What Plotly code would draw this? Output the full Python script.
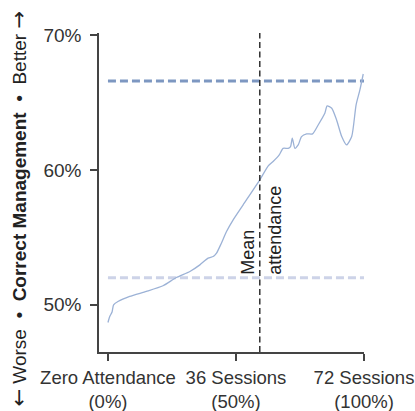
import plotly.graph_objects as go

# Data
attendance_pct = [0, 0.7, 1.6, 2.2, 3.9, 8.5, 15, 21.5, 26.7, 32, 35.9, 39.1, 41.1, 42.4,
                  44.3, 46.3, 48.9, 52.8, 59.3, 62.6, 64.5, 66.9, 68.4, 70.4, 71.3, 72,
                  73, 74.3, 75.6, 77.6, 79.9, 82.1, 84.7, 85.6, 87.4, 89.3, 91.3, 93.2,
                  95.2, 96.9, 98.4, 99.7]
correct_mgmt = [48.69, 49.13, 49.46, 50.0, 50.24, 50.62, 50.99, 51.41, 52.02, 52.47, 52.96,
                53.46, 53.58, 53.83, 54.57, 55.43, 56.30, 57.41, 59.26, 60.30, 60.62,
                61.11, 61.6, 61.6, 61.73, 62.35, 61.6, 61.85, 62.47, 62.67, 62.67, 63.33,
                64.2, 64.74, 64.57, 63.7, 62.47, 61.85, 62.47, 64.81, 65.93, 67.11]
upper_benchmark = 66.6
lower_benchmark = 52.0
mean_attendance = 59.3
x_ticks = [0, 50, 100]
x_tick_labels = ["Zero Attendance<br>(0%)", "36 Sessions<br>(50%)", "72 Sessions<br>(100%)"]
y_ticks = [50, 60, 70]
y_tick_labels = ["50%", "60%", "70%"]

FONT = "Liberation Sans, Arial, Helvetica, sans-serif"
ARROW = "<span style='font-family:DejaVu Sans;font-size:21px'>{}</span>"

fig = go.Figure()
fig.add_trace(go.Scatter(x=[0, 100], y=[upper_benchmark] * 2, mode="lines",
                         line=dict(color="#7d97c1", width=3, dash="8px,4px"),
                         hoverinfo="skip"))
fig.add_trace(go.Scatter(x=[0, 100], y=[lower_benchmark] * 2, mode="lines",
                         line=dict(color="#cdd3e8", width=3, dash="8px,4px"),
                         hoverinfo="skip"))
fig.add_trace(go.Scatter(x=attendance_pct, y=correct_mgmt, mode="lines",
                         line=dict(color="#9cb2d6", width=1.3, shape="spline", smoothing=0.6)))
fig.add_trace(go.Scatter(x=[mean_attendance] * 2, y=[46.5, 70.15], mode="lines",
                         line=dict(color="#222222", width=1.4, dash="6px,3.5px"),
                         hoverinfo="skip"))

fig.add_annotation(x=mean_attendance, y=52.1, xref="x", yref="y",
                   text="Mean", textangle=-90, showarrow=False,
                   xanchor="right", yanchor="bottom", xshift=0,
                   font=dict(family=FONT, size=18, color="#222222"))
fig.add_annotation(x=mean_attendance, y=52.1, xref="x", yref="y",
                   text="attendance", textangle=-90, showarrow=False,
                   xanchor="left", yanchor="bottom", xshift=3,
                   font=dict(family=FONT, size=18, color="#222222"))

fig.add_annotation(x=-0.3, y=0.448, xref="paper", yref="paper",
                   text=ARROW.format("←") + " Worse  •  <b>Correct Management</b>  •  Better " + ARROW.format("→"),
                   textangle=-90, showarrow=False, xanchor="center", yanchor="middle",
                   font=dict(family=FONT, size=19, color="#222222"))

axis_common = dict(showgrid=False, zeroline=False, fixedrange=True, automargin=False)

fig.update_layout(
    width=415, height=411,
    margin=dict(l=99, r=51, t=33, b=59, autoexpand=False),
    paper_bgcolor="white", plot_bgcolor="white",
    showlegend=False,
    font=dict(family=FONT, size=18, color="#333333"),
    xaxis=dict(range=[-3.5, 100], tickvals=x_ticks, ticktext=x_tick_labels,
               showline=True, linecolor="#444444", linewidth=1.5,
               ticks="outside", ticklen=7, tickcolor="#444444", tickwidth=1.5,
               ticklabelstandoff=1,
               tickfont=dict(family=FONT, size=18.5, color="#333333"), **axis_common),
    yaxis=dict(range=[46.5, 70.15], tickvals=y_ticks, ticktext=y_tick_labels,
               showline=True, linecolor="#444444", linewidth=1.5,
               ticks="outside", ticklen=7, tickcolor="#444444", tickwidth=1.5,
               ticklabelstandoff=5,
               tickfont=dict(family=FONT, size=19, color="#333333"), **axis_common),
)

fig.write_html("out.html", post_script="document.body.style.margin='0px';",
               config={"displayModeBar": False})
